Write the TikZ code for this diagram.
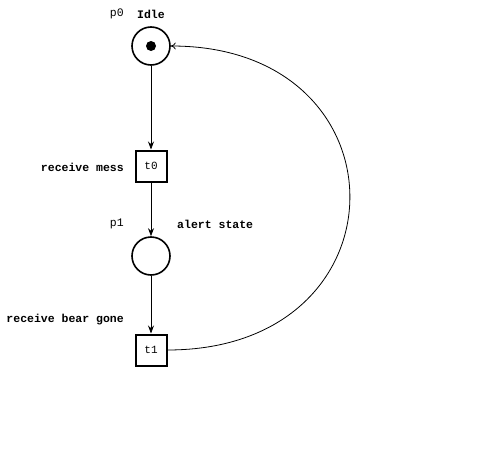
\documentclass[tikz,border=0pt]{standalone}
\usepackage{fontspec}
\setmonofont{Liberation Mono}
\usetikzlibrary{arrows.meta,positioning,calc}

\tikzset{
    place/.style={draw, circle, line width=1.6pt, minimum size=38pt, inner sep=0pt},
    transition/.style={draw, rectangle, line width=2pt, minimum size=31pt, inner sep=0pt, font=\ttfamily\fontsize{11}{13}\selectfont},
    tag/.style={font=\ttfamily\fontsize{11.5}{13}\selectfont, inner sep=0pt},
    caption/.style={font=\ttfamily\bfseries\fontsize{11.5}{13}\selectfont, inner sep=0pt},
    arc/.style={line width=0.8pt, -{Stealth[length=8pt, width=6pt]}},
}

\begin{document}
\begin{tikzpicture}[x=1pt, y=-1pt]
    \useasboundingbox (0,0) rectangle (495,463);

    % Places and transitions
    \node[place] (p0) at (151,46) {};
    \fill (p0.center) circle (5pt);
    \node[transition] (t0) at (151,166) {t0};
    \node[place] (p1) at (151,256) {};
    \node[transition] (t1) at (151,350) {t1};

    % Labels
    \node[tag, anchor=east] (p0name) at (124,14) {p0};
    \node[caption] (p0cap) at (151,14) {Idle};
    \node[caption, anchor=east] (t0cap) at (124,167) {receive mess};
    \node[tag, anchor=east] (p1name) at (124,224) {p1};
    \node[caption, anchor=west] (p1cap) at (177,224) {alert state};
    \node[caption, anchor=east] (t1cap) at (124,320) {receive bear gone};

    % Arcs
    \draw[arc] (p0) -- (t0);
    \draw[arc] (t0) -- (p1);
    \draw[arc] (p1) -- (t1);

    % Back to Idle
    \draw[line width=0.8pt, -{To[length=5pt, width=7pt]}] (t1.east) .. controls (410,350) and (410,46) .. (p0.east);
\end{tikzpicture}
\end{document}
